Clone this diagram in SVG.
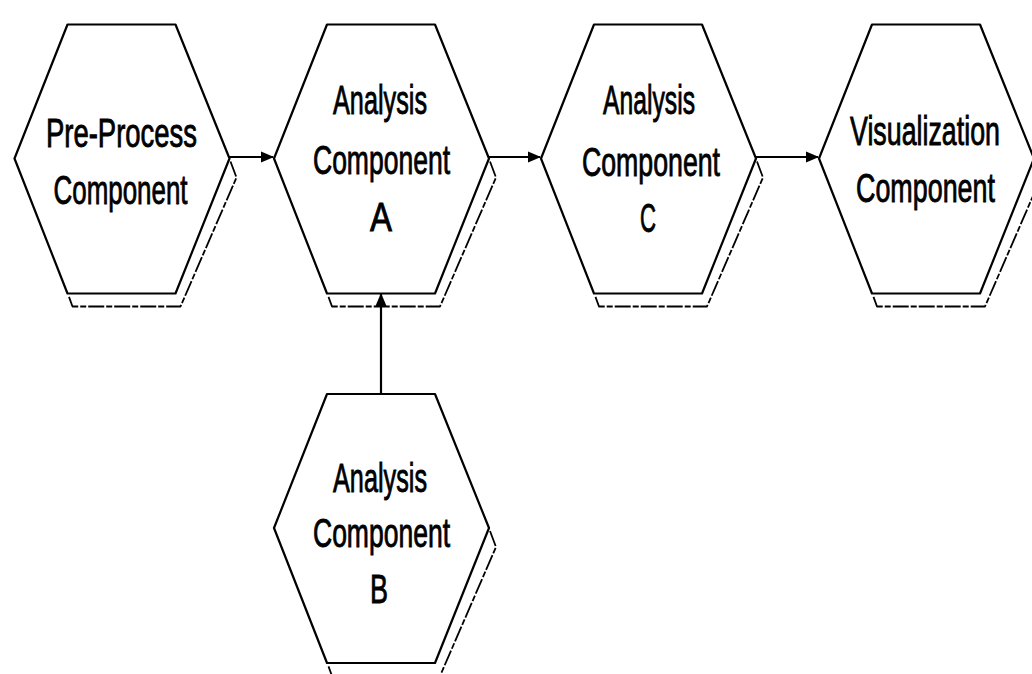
<svg xmlns="http://www.w3.org/2000/svg" xmlns:xlink="http://www.w3.org/1999/xlink" width="1032" height="674" viewBox="0 0 1032 674">
  <style>
    .hex { fill: #ffffff; stroke: #000000; stroke-width: 2.2; stroke-linejoin: round; }
    .shadow { fill: none; stroke: #000000; stroke-width: 1.8; stroke-dasharray: 16 2 6 2; stroke-linejoin: round; }
    .label { font-family: "Liberation Sans", Arial, sans-serif; font-size: 41px; fill: #000000; stroke: #000000; stroke-width: 0.9; text-anchor: middle; }
    .link { stroke: #000000; stroke-width: 2.2; fill: none; }
  </style>
  <defs>
    <!-- hexagon outline centred on (0,0) -->
    <path id="hexShape" d="M -54 -134 L 54 -134 L 108 0 L 54 135 L -54 135 L -107 0 Z"/>
    <!-- offset edge giving the hexagon its drop shadow -->
    <path id="hexShadow" d="M 109 3 L 115 19 L 59 148 L -49 148 L -53 137"/>
    <marker id="arrowHead" markerUnits="userSpaceOnUse" markerWidth="13" markerHeight="13" viewBox="0 0 13 13" refX="12" refY="6.5" orient="auto">
      <path d="M 0 1 L 13 6.5 L 0 12 Z" fill="#000000"/>
    </marker>
  </defs>

  <rect x="0" y="0" width="1032" height="674" fill="#ffffff"/>

  <!-- connectors -->
  <g id="connectors">
    <line class="link" x1="229" y1="157" x2="273" y2="157" marker-end="url(#arrowHead)"/>
    <line class="link" x1="489" y1="157" x2="540" y2="157" marker-end="url(#arrowHead)"/>
    <line class="link" x1="756" y1="157" x2="818" y2="157" marker-end="url(#arrowHead)"/>
    <line class="link" x1="381" y1="394" x2="381" y2="294" marker-end="url(#arrowHead)"/>
  </g>

  <g id="preprocess">
    <use xlink:href="#hexShadow" class="shadow" transform="translate(121.5 158.5)"/>
    <use xlink:href="#hexShape" class="hex" transform="translate(121.5 158.5)"/>
    <text class="label" x="121.5" y="147" textLength="151" lengthAdjust="spacingAndGlyphs">Pre-Process</text>
    <text class="label" x="120.5" y="204" textLength="134" lengthAdjust="spacingAndGlyphs">Component</text>
  </g>

  <g id="analysis-a">
    <use xlink:href="#hexShadow" class="shadow" transform="translate(381 158.5)"/>
    <use xlink:href="#hexShape" class="hex" transform="translate(381 158.5)"/>
    <text class="label" x="380" y="114" textLength="94" lengthAdjust="spacingAndGlyphs">Analysis</text>
    <text class="label" x="381.5" y="174" textLength="137" lengthAdjust="spacingAndGlyphs">Component</text>
    <text class="label" x="381" y="231" textLength="22" lengthAdjust="spacingAndGlyphs">A</text>
  </g>

  <g id="analysis-c">
    <use xlink:href="#hexShadow" class="shadow" transform="translate(648 158.5)"/>
    <use xlink:href="#hexShape" class="hex" transform="translate(648 158.5)"/>
    <text class="label" x="649" y="114" textLength="92" lengthAdjust="spacingAndGlyphs">Analysis</text>
    <text class="label" x="651" y="176" textLength="138" lengthAdjust="spacingAndGlyphs">Component</text>
    <text class="label" x="648" y="232" textLength="16" lengthAdjust="spacingAndGlyphs">C</text>
  </g>

  <g id="visualization">
    <use xlink:href="#hexShadow" class="shadow" transform="translate(926 158.5)"/>
    <use xlink:href="#hexShape" class="hex" transform="translate(926 158.5)"/>
    <text class="label" x="925" y="145" textLength="150" lengthAdjust="spacingAndGlyphs">Visualization</text>
    <text class="label" x="925.5" y="202" textLength="139" lengthAdjust="spacingAndGlyphs">Component</text>
  </g>

  <g id="analysis-b">
    <use xlink:href="#hexShadow" class="shadow" transform="translate(381 528)"/>
    <use xlink:href="#hexShape" class="hex" transform="translate(381 528)"/>
    <text class="label" x="380" y="492" textLength="94" lengthAdjust="spacingAndGlyphs">Analysis</text>
    <text class="label" x="381.5" y="547" textLength="137" lengthAdjust="spacingAndGlyphs">Component</text>
    <text class="label" x="379" y="603" textLength="18" lengthAdjust="spacingAndGlyphs">B</text>
  </g>
</svg>
